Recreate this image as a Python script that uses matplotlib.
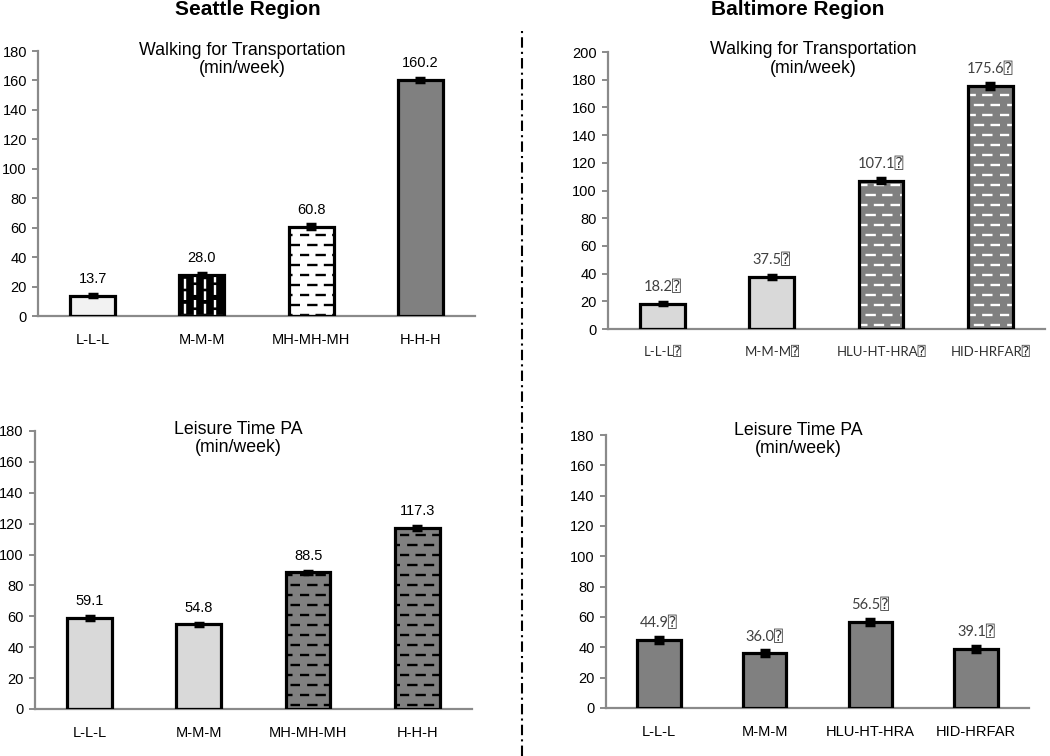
import numpy as np
import matplotlib
matplotlib.use("Agg")
import matplotlib.pyplot as plt
import matplotlib.hatch as mhatch
from matplotlib.path import Path
from matplotlib.lines import Line2D

# ---------------- data ----------------
seattle_cats = ["L-L-L", "M-M-M", "MH-MH-MH", "H-H-H"]
balt_walk_cats = ["L-L-L\u2370", "M-M-M\u2370", "HLU-HT-HRA\u2370", "HID-HRFAR\u2370"]
balt_leis_cats = ["L-L-L", "M-M-M", "HLU-HT-HRA", "HID-HRFAR"]

seattle_walk = [13.7, 28.0, 60.8, 160.2]
seattle_walk_err = [1.0, 1.2, 1.5, 1.5]
balt_walk = [18.2, 37.5, 107.1, 175.6]
balt_walk_err = [1.2, 1.5, 2.0, 2.0]
seattle_leis = [59.1, 54.8, 88.5, 117.3]
seattle_leis_err = [1.2, 1.0, 1.0, 1.5]
balt_leis = [44.9, 36.0, 56.5, 39.1]
balt_leis_err = [2.0, 2.0, 2.0, 2.0]


# ---------------- custom dashed "brick" hatches ----------------
class DashRowHatch(mhatch.HatchPatternBase):
    rows, per, dash = 10, 6, 0.08

    def __init__(self, hatch, density):
        self.on = hatch.count("-") > 0
        self.num_vertices = self.rows * self.per * 2 if self.on else 0

    def set_vertices_and_codes(self, vertices, codes):
        i = 0
        for k in range(self.rows):
            y = (k + 0.5) / self.rows
            off = 0.0 if k % 2 == 0 else 0.5 / self.per
            for j in range(self.per):
                x0 = j / self.per + off
                vertices[i] = (x0, y)
                vertices[i + 1] = (x0 + self.dash, y)
                codes[i] = Path.MOVETO
                codes[i + 1] = Path.LINETO
                i += 2


class DashColHatch(mhatch.HatchPatternBase):
    cols, per, dash = 10, 8, 0.075

    def __init__(self, hatch, density):
        self.on = hatch.count("|") > 0
        self.num_vertices = self.cols * self.per * 2 if self.on else 0

    def set_vertices_and_codes(self, vertices, codes):
        i = 0
        for k in range(self.cols):
            x = (k + 0.5) / self.cols
            off = 0.0 if k % 2 == 0 else 0.5 / self.per
            for j in range(self.per):
                y0 = j / self.per + off
                vertices[i] = (x, y0)
                vertices[i + 1] = (x, min(y0 + self.dash, 0.999))
                codes[i] = Path.MOVETO
                codes[i + 1] = Path.LINETO
                i += 2


mhatch._hatch_types = [DashRowHatch if t is mhatch.HorizontalHatch else
                       DashColHatch if t is mhatch.VerticalHatch else t
                       for t in mhatch._hatch_types]

plt.rcParams["font.family"] = ["Liberation Sans", "DejaVu Sans", "DejaVu Sans Mono"]
plt.rcParams["hatch.linewidth"] = 1.7

CAL = ["Lato", "DejaVu Sans", "DejaVu Sans Mono"]
GREY_AX = "#8a8a8a"

fig = plt.figure(figsize=(10.5, 7.56), dpi=100)


def panel(rect, cats, vals, errs, fills, hatches, hcols, ymax, title, tx, ty,
          val_suffix="", val_font=None, val_color="black", cat_font=None,
          cat_color="black", cat_size=10.5):
    ax = fig.add_axes(rect)
    x = np.arange(len(cats))
    w = 0.41
    for xi, v, f, h, hc in zip(x, vals, fills, hatches, hcols):
        ax.bar(xi, v, w, color=f, edgecolor=hc if h else f, hatch=h,
               linewidth=0, zorder=2)
        ax.bar(xi, v, w, fill=False, edgecolor="black", linewidth=2.3, zorder=3)
    ax.errorbar(x, vals, yerr=errs, fmt="none", ecolor="black", elinewidth=3.5,
                capsize=3.5, capthick=2.5, zorder=4)
    for xi, v in zip(x, vals):
        ax.annotate(f"{v:.1f}{val_suffix}", (xi, v), xytext=(0, 7),
                    textcoords="offset points", ha="center", va="bottom",
                    fontsize=10.5, color=val_color,
                    family=val_font if val_font else plt.rcParams["font.family"])
    ax.set_xlim(-0.5, len(cats) - 0.5)
    ax.set_ylim(0, ymax)
    ax.set_yticks(np.arange(0, ymax + 1, 20))
    ax.set_xticks(x)
    ax.set_xticklabels(cats, fontsize=cat_size, color=cat_color,
                       family=cat_font if cat_font else plt.rcParams["font.family"])
    for s in ("top", "right"):
        ax.spines[s].set_visible(False)
    for s in ("left", "bottom"):
        ax.spines[s].set_color(GREY_AX)
        ax.spines[s].set_linewidth(1.6)
    ax.tick_params(axis="y", direction="out", length=4, width=1.4,
                   color=GREY_AX, labelsize=10.5, pad=4)
    ax.tick_params(axis="x", length=0, pad=12)
    ax.text(tx, ty, title, transform=ax.transAxes, ha="center", va="top",
            fontsize=12.8, linespacing=1.1)
    return ax


LG, LLG, DG = "#d9d9d9", "#f2f2f2", "#808080"

panel([0.0362, 0.582, 0.4162, 0.3505], seattle_cats, seattle_walk, seattle_walk_err,
      [LLG, "black", "white", DG], [None, "|", "-", None],
      [None, "white", "black", None], 180,
      "Walking for Transportation\n(min/week)", 0.467, 1.035)

panel([0.579, 0.5648, 0.4162, 0.3664], balt_walk_cats, balt_walk, balt_walk_err,
      [LG, LG, DG, DG], [None, None, "-", "-"],
      [None, None, "white", "white"], 200,
      "Walking for Transportation\n(min/week)", 0.469, 1.038,
      val_suffix="\u2370", val_font=CAL, val_color="#404040",
      cat_font=CAL, cat_color="#303030", cat_size=9.5)

panel([0.0333, 0.0622, 0.4162, 0.3677], seattle_cats, seattle_leis, seattle_leis_err,
      [LG, LG, DG, DG], [None, None, "-", "-"],
      [None, None, "black", "black"], 180,
      "Leisure Time PA\n(min/week)", 0.465, 1.036)

panel([0.5771, 0.0635, 0.4029, 0.3611], balt_leis_cats, balt_leis, balt_leis_err,
      [DG, DG, DG, DG], [None] * 4, [None] * 4, 180,
      "Leisure Time PA\n(min/week)", 0.454, 1.049,
      val_suffix="\u2370", val_font=CAL, val_color="#404040")

fig.text(0.236, 0.987, "Seattle Region", ha="center", va="center",
         fontsize=15, fontweight="bold")
fig.text(0.76, 0.987, "Baltimore Region", ha="center", va="center",
         fontsize=15, fontweight="bold")

fig.add_artist(Line2D([0.497, 0.497], [0.0, 0.96], transform=fig.transFigure,
                      color="black", linewidth=1.5, linestyle=(0, (5, 2, 1, 2))))

fig.savefig("out.png", dpi=100)
